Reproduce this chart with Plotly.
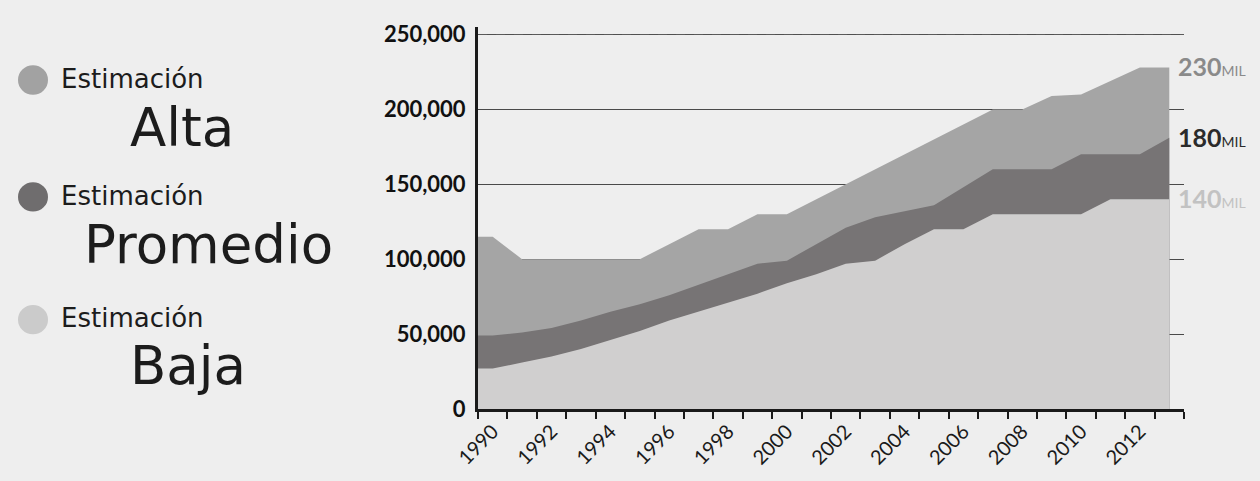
import plotly.graph_objects as go

# ---------------- data ----------------
YEARS = list(range(1990, 2014))
HIGH = [115000, 100000, 100000, 100000, 100000, 100000, 110000, 120000, 120000, 130000,
        130000, 140000, 150000, 160000, 170000, 180000, 190000, 200000, 200000, 209000,
        210000, 219000, 228000, 228000]
MEDIUM = [49000, 51000, 54000, 59000, 65000, 70000, 76000, 83000, 90000, 97000,
          99000, 110000, 121000, 128000, 132000, 136000, 148000, 160000, 160000, 160000,
          170000, 170000, 170000, 181000]
LOW = [27000, 31000, 35000, 40000, 46000, 52000, 59000, 65000, 71000, 77000,
       84000, 90000, 97000, 99000, 110000, 120000, 120000, 130000, 130000, 130000,
       130000, 140000, 140000, 140000]
SERIES_NAMES = ["Alta", "Promedio", "Baja"]
END_LABELS = ["230", "180", "140"]
X_TICK_YEARS = list(range(1990, 2013, 2))
Y_TICKS = [0, 50000, 100000, 150000, 200000, 250000]
Y_TOP = 255000

# ---------------- style ----------------
W, H = 1260, 481
ML, MR, MT, MB = 478, 76, 27, 65
BG = "#eeeeee"
FILL = {"Alta": "#a5a5a5", "Promedio": "#777475", "Baja": "#d0cfcf"}
DOT = {"Alta": "#a2a2a2", "Promedio": "#6f6d6e", "Baja": "#cbcbcb"}
END_COLORS = ["#8a8a8a", "#2b2b2b", "#c2c2c2"]
FONT = "Lato"
LEG_FONT = "DejaVu Sans"

X_MIN, X_MAX = YEARS[0] - 0.5, YEARS[-1] + 0.5
PW, PH = W - ML - MR, H - MT - MB


def px_x(px):
    return (px - ML) / PW


def px_y(py):
    return (H - MB - py) / PH


fig = go.Figure()

# areas drawn back-to-front; first value carried to the axis edge
for name, vals in [("Alta", HIGH), ("Promedio", MEDIUM), ("Baja", LOW)]:
    fig.add_trace(go.Scatter(
        x=[X_MIN] + YEARS, y=[vals[0]] + vals,
        mode="lines", line=dict(width=0), fill="tozeroy",
        fillcolor=FILL[name], name=name, showlegend=False, hoverinfo="skip"))

# empty traces to activate overlay grid axes (grid drawn over areas)
fig.add_trace(go.Scatter(x=[], y=[], yaxis="y2", showlegend=False))
fig.add_trace(go.Scatter(x=[], y=[], yaxis="y3", showlegend=False))

# end labels
for vals, lab, col in zip([HIGH, MEDIUM, LOW], END_LABELS, END_COLORS):
    fig.add_annotation(
        x=YEARS[-1], y=vals[-1], xref="x", yref="y", xanchor="left", yanchor="middle",
        xshift=7, yshift=1, showarrow=False,
        text=f"<b>{lab}</b><span style='font-size:14px'>MIL</span>",
        font=dict(family=FONT, size=25, color=col))

# custom legend: (circle y, small-label y, big word x, big word y)
legend_rows = [(81, 80, 182, 129), (200, 199, 208, 248), (325, 323, 188, 372)]
for name, (cy, cy_small, cx_big, cy_big) in zip(SERIES_NAMES, legend_rows):
    r = 15
    fig.add_shape(type="circle", xref="paper", yref="paper",
                  x0=px_x(33 - r), x1=px_x(33 + r), y0=px_y(cy + r), y1=px_y(cy - r),
                  fillcolor=DOT[name], line=dict(width=0))
    fig.add_annotation(x=px_x(59), y=px_y(cy_small), xref="paper", yref="paper",
                       xanchor="left", yanchor="middle", showarrow=False,
                       text="Estimación", font=dict(family=LEG_FONT, size=26, color="#1c1c1c"))
    fig.add_annotation(x=px_x(cx_big), y=px_y(cy_big), xref="paper", yref="paper",
                       xanchor="center", yanchor="middle", showarrow=False,
                       text=name, font=dict(family=LEG_FONT, size=53, color="#1c1c1c"))

fig.update_layout(
    width=W, height=H,
    margin=dict(l=ML, r=MR, t=MT, b=MB),
    paper_bgcolor=BG, plot_bgcolor=BG,
    font=dict(family=FONT, color="#1a1a1a"),
    showlegend=False,
    xaxis=dict(
        range=[X_MIN, X_MAX], showgrid=False, zeroline=False,
        showline=True, linecolor="#1a1a1a", linewidth=3,
        tickmode="array", tickvals=X_TICK_YEARS, ticktext=[str(y) for y in X_TICK_YEARS],
        ticks="", tickangle=-45, tickfont=dict(family=FONT, size=20, color="#1a1a1a"),
        minor=dict(tickmode="linear", tick0=X_MIN, dtick=1, ticks="outside",
                   ticklen=7, tickwidth=2, tickcolor="#1a1a1a", showgrid=False),
    ),
    yaxis=dict(
        range=[0, Y_TOP], tickmode="array", tickvals=Y_TICKS,
        tickformat=",", showgrid=True, gridcolor="#505050", gridwidth=1,
        zeroline=False, showline=True, linecolor="#1a1a1a", linewidth=3,
        ticks="", ticklabelstandoff=5,
        tickfont=dict(family=FONT, size=22, color="#111111", weight="bold"),
    ),
    yaxis2=dict(
        range=[0, Y_TOP], overlaying="y", tickmode="array", tickvals=Y_TICKS[1:-1],
        showgrid=True, gridcolor="rgba(60,60,60,0.30)", gridwidth=1,
        showticklabels=False, zeroline=False, showline=False,
    ),
    yaxis3=dict(
        range=[0, Y_TOP], overlaying="y", tickmode="array", tickvals=Y_TICKS[-1:],
        showgrid=True, gridcolor="#5a5a5a", gridwidth=1, griddash="dash",
        showticklabels=False, zeroline=False, showline=False,
    ),
)

fig.write_html("out.html", config={"displayModeBar": False},
               post_script="document.body.style.margin='0';")
